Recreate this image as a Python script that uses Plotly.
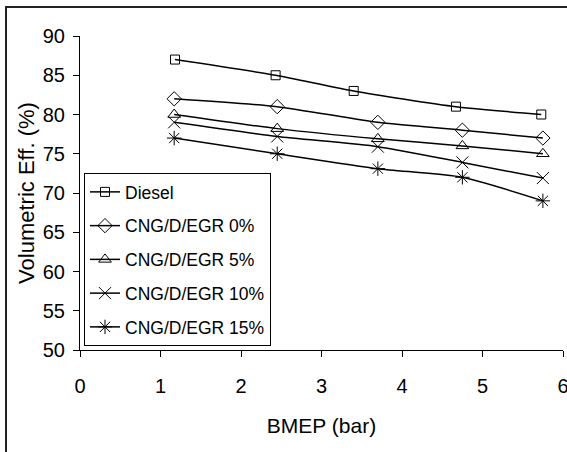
import plotly.graph_objects as go

x_diesel = [1.18, 2.43, 3.40, 4.67, 5.73]
diesel = [87, 85, 83, 81, 80]
x_cng = [1.17, 2.45, 3.70, 4.75, 5.75]
egr0 = [82, 81, 79, 78, 77]
egr5 = [80, 78.2, 76.9, 76, 75]
egr10 = [79, 77.2, 75.9, 73.9, 71.9]
egr15 = [77, 75, 73.1, 72, 69]

names = ["Diesel", "CNG/D/EGR 0%", "CNG/D/EGR 5%", "CNG/D/EGR 10%", "CNG/D/EGR 15%"]
xs = [x_diesel, x_cng, x_cng, x_cng, x_cng]
ys = [diesel, egr0, egr5, egr10, egr15]
symbols = ["square-open", "diamond-open", "triangle-up-open", "x-thin-open", "asterisk-open"]
sizes = [9, 11, 11, 12, 12]

FONT = "Liberation Sans Narrow, Arial Narrow, Liberation Sans, Arial, sans-serif"

fig = go.Figure()
for i, (n, x, y, s, sz) in enumerate(zip(names, xs, ys, symbols, sizes)):
    fig.add_trace(go.Scatter(
        x=x, y=y, name=n, mode="lines+markers", legendgroup=f"g{i}",
        line=dict(color="black", width=1.5, shape="spline", smoothing=0.6),
        marker=dict(symbol=s, size=sz, color="black", line=dict(color="black", width=1)),
    ))

W, H = 567, 452
L, R, T, B = 80, 4, 36, 102
pw, ph = W - L - R, H - T - B

def px(xp):
    return (xp - L) / pw

def py(yp):
    return (H - B - yp) / ph

fig.add_shape(type="rect", xref="paper", yref="paper",
              x0=px(6), x1=px(572), y0=py(7), y1=py(458),
              line=dict(color="#222", width=2), fillcolor="rgba(0,0,0,0)", layer="above")

fig.update_layout(
    width=W, height=H,
    margin=dict(l=L, r=R, t=T, b=B, autoexpand=False),
    paper_bgcolor="white", plot_bgcolor="white",
    font=dict(family=FONT, size=20, color="black"),
    showlegend=True,
    legend=dict(x=px(84), y=py(173), xanchor="left", yanchor="top",
                bordercolor="black", borderwidth=1, bgcolor="white",
                font=dict(family=FONT, size=17.5, color="black"),
                itemwidth=30, tracegroupgap=8),
    xaxis=dict(range=[0, 6], tickvals=[0, 1, 2, 3, 4, 5, 6],
               automargin=False,
               showline=True, linecolor="black", linewidth=1,
               ticks="outside", ticklen=6, tickcolor="black",
               ticklabelstandoff=12, ticklabeloverflow="allow",
               showgrid=False, zeroline=False,
               title=dict(text="BMEP (bar)", standoff=22,
                          font=dict(family=FONT, size=21)),
               tickfont=dict(family=FONT, size=20)),
    yaxis=dict(range=[50, 90], tickvals=[50, 55, 60, 65, 70, 75, 80, 85, 90],
               automargin=False,
               showline=True, linecolor="black", linewidth=1,
               ticks="outside", ticklen=6, tickcolor="black",
               ticklabelstandoff=4,
               showgrid=False, zeroline=False,
               title=dict(text="Volumetric Eff. (%)", standoff=2,
                          font=dict(family=FONT, size=22)),
               tickfont=dict(family=FONT, size=20)),
)

fig.write_html("out.html")
